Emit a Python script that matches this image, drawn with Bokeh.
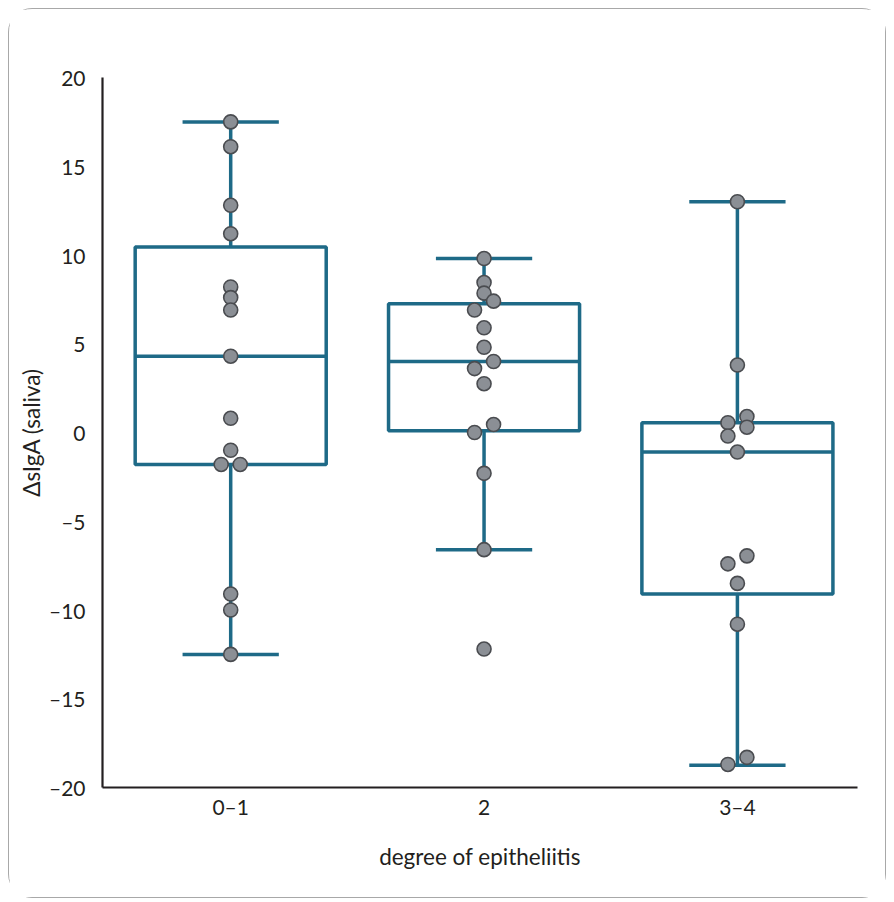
from bokeh.plotting import figure
from bokeh.models import Range1d, FixedTicker
from bokeh.embed import file_html
from bokeh.resources import INLINE

# ---------------- data ----------------
categories = ["0–1", "2", "3–4"]
values_0_1 = [17.5, 16.1, 12.8, 11.2, 8.2, 7.6, 6.9, 4.3, 0.8, -1.0, -1.8, -1.8, -9.1, -10.0, -12.5]
values_2 = [9.8, 8.45, 7.85, 7.4, 6.9, 5.9, 4.8, 4.0, 3.6, 2.75, 0.45, 0.0, -2.3, -6.6, -12.2]
values_3_4 = [13.0, 3.8, 0.9, 0.55, 0.3, -0.2, -1.1, -6.95, -7.4, -8.5, -10.8, -18.3, -18.7]
whisker_high = [17.5, 9.8, 13.0]
q3 = [10.45, 7.25, 0.55]
median = [4.3, 4.0, -1.1]
q1 = [-1.8, 0.1, -9.1]
whisker_low = [-12.5, -6.6, -18.75]
y_ticks = [-20, -15, -10, -5, 0, 5, 10, 15, 20]
y_tick_labels = {t: (str(t).replace("-", "\u2013")) for t in y_ticks}

# ---------------- style ----------------
LINE = "#1e6a87"
TEXT = "#231f20"
FONT = "Lato"
BOX_HALF = 0.377
CAP_HALF = 0.19
PX_PER_X = 253.0
JITTER = 9.5 / PX_PER_X
ROW_H = 0.58

W, H = 878, 890
p = figure(width=W, height=H, output_backend="svg", toolbar_location=None,
           x_range=Range1d(-0.506, 2.474), y_range=Range1d(-20, 20),
           min_border_left=93, min_border_right=30, min_border_top=68, min_border_bottom=112)
p.margin = (8, 0, 0, 8)
p.styles = {"border": "1.5px solid #a8a8a8", "border-radius": "24px"}
p.background_fill_color = "white"
p.border_fill_color = "white"
p.outline_line_color = None
p.grid.visible = False

xs = list(range(len(categories)))

# whiskers
p.segment(x0=xs, y0=q3, x1=xs, y1=whisker_high, line_color=LINE, line_width=3.5)
p.segment(x0=xs, y0=q1, x1=xs, y1=whisker_low, line_color=LINE, line_width=3.5)
p.segment(x0=[x - CAP_HALF for x in xs], y0=whisker_high, x1=[x + CAP_HALF for x in xs], y1=whisker_high,
          line_color=LINE, line_width=3.5)
p.segment(x0=[x - CAP_HALF for x in xs], y0=whisker_low, x1=[x + CAP_HALF for x in xs], y1=whisker_low,
          line_color=LINE, line_width=3.5)
# boxes
p.quad(left=[x - BOX_HALF for x in xs], right=[x + BOX_HALF for x in xs], bottom=q1, top=q3,
       fill_color=None, line_color=LINE, line_width=3.5)
p.segment(x0=[x - BOX_HALF for x in xs], y0=median, x1=[x + BOX_HALF for x in xs], y1=median,
          line_color=LINE, line_width=3.5)


def swarm_offsets(vals):
    """Pair neighbouring values (ascending) that lie within ROW_H; spread pairs +/- JITTER."""
    order = sorted(range(len(vals)), key=lambda i: vals[i])
    offs = [0.0] * len(vals)
    k = 0
    while k < len(order):
        i = order[k]
        if k + 1 < len(order) and vals[order[k + 1]] - vals[i] < ROW_H:
            j = order[k + 1]
            offs[i] = -JITTER
            offs[j] = JITTER
            k += 2
        else:
            k += 1
    return offs


px, py = [], []
for gi, vals in enumerate([values_0_1, values_2, values_3_4]):
    offs = swarm_offsets(vals)
    px += [gi + o for o in offs]
    py += vals

p.scatter(px, py, size=14, fill_color="#8b8f95", line_color="#4a4c50", line_width=1.6)

# axes
p.xaxis.ticker = FixedTicker(ticks=xs)
p.xaxis.major_label_overrides = {i: c for i, c in enumerate(categories)}
p.yaxis.ticker = FixedTicker(ticks=y_ticks)
p.yaxis.major_label_overrides = y_tick_labels
for ax in (p.xaxis[0], p.yaxis[0]):
    ax.axis_line_color = TEXT
    ax.axis_line_width = 2.2
    ax.major_tick_line_color = None
    ax.minor_tick_line_color = None
    ax.major_label_text_font = FONT
    ax.major_label_text_font_size = "21px"
    ax.major_label_text_color = TEXT
    ax.axis_label_text_font = FONT
    ax.axis_label_text_font_size = "22.5px"
    ax.axis_label_text_font_style = "normal"
    ax.axis_label_text_color = TEXT
p.yaxis.major_label_standoff = 11
p.xaxis.major_label_standoff = 0
p.xaxis.axis_label = "degree of epitheliitis"
p.yaxis.axis_label = "ΔsIgA (saliva)"
p.xaxis.axis_label_standoff = 21
p.yaxis.axis_label_standoff = 1

open("out.html", "w").write(file_html(p, INLINE))
